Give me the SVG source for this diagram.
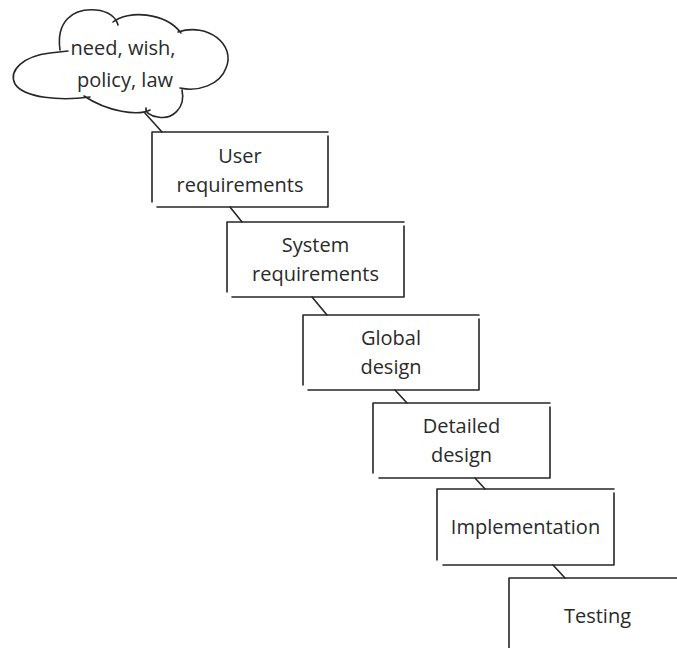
<svg xmlns="http://www.w3.org/2000/svg" width="677" height="648" viewBox="0 0 677 648">
<style>
.ln{fill:none;stroke:#262626;stroke-width:1.6;stroke-linecap:round;stroke-linejoin:round}
.bg{fill:#ffffff;stroke:none}
.t{font-family:"Open Sans","Noto Sans",sans-serif;font-size:20px;fill:#2a2a2a;text-anchor:middle}
</style>
<rect width="677" height="648" fill="#ffffff"/>
<g id="connectors" class="ln">
<line x1="144" y1="112" x2="162" y2="132"/>
<line x1="230" y1="207" x2="242" y2="222"/>
<line x1="312" y1="297" x2="327" y2="315"/>
<line x1="395" y1="390" x2="407" y2="403"/>
<line x1="475" y1="478" x2="485" y2="489"/>
<line x1="553" y1="565" x2="565" y2="578"/>
</g>
<g id="cloud">
<path class="ln" d="M60,50 C56,22 72,8 96,10 C108,11 116,17 118,25 M113,22 C128,10 165,12 181,33 M178,32 C208,22 236,45 226,68 C220,85 198,92 180,88 M182,90 C186,108 172,120 158,117 C150,116 145,112 146,108 M150,110 C138,116 108,112 84,96 M90,97 C60,101 24,98 15,84 C8,70 24,56 50,53 L68,51"/>
<text class="t" x="123" y="55">need, wish,</text>
<text class="t" x="125" y="87">policy, law</text>
</g>
<g id="user-requirements">
<path class="ln" d="M152,202 V132 H328 M328,136 V207 H157"/>
<text class="t" x="240" y="163">User</text>
<text class="t" x="240" y="192">requirements</text>
</g>
<g id="system-requirements">
<path class="ln" d="M227,292 V222 H404 M404,226 V297 H232"/>
<text class="t" x="315.5" y="252">System</text>
<text class="t" x="315.5" y="281">requirements</text>
</g>
<g id="global-design">
<path class="ln" d="M303,385 V315 H479 M479,319 V390 H308"/>
<text class="t" x="391" y="345">Global</text>
<text class="t" x="391" y="374">design</text>
</g>
<g id="detailed-design">
<path class="ln" d="M373,473 V403 H550 M550,407 V478 H379"/>
<text class="t" x="461.5" y="433">Detailed</text>
<text class="t" x="461.5" y="462">design</text>
</g>
<g id="implementation">
<path class="ln" d="M437,560 V489 H614 M614,493 V565 H443"/>
<text class="t" x="525.5" y="534">Implementation</text>
</g>
<g id="testing">
<path class="ln" d="M509,648 V578 H677"/>
<text class="t" x="597.5" y="623">Testing</text>
</g>
</svg>
